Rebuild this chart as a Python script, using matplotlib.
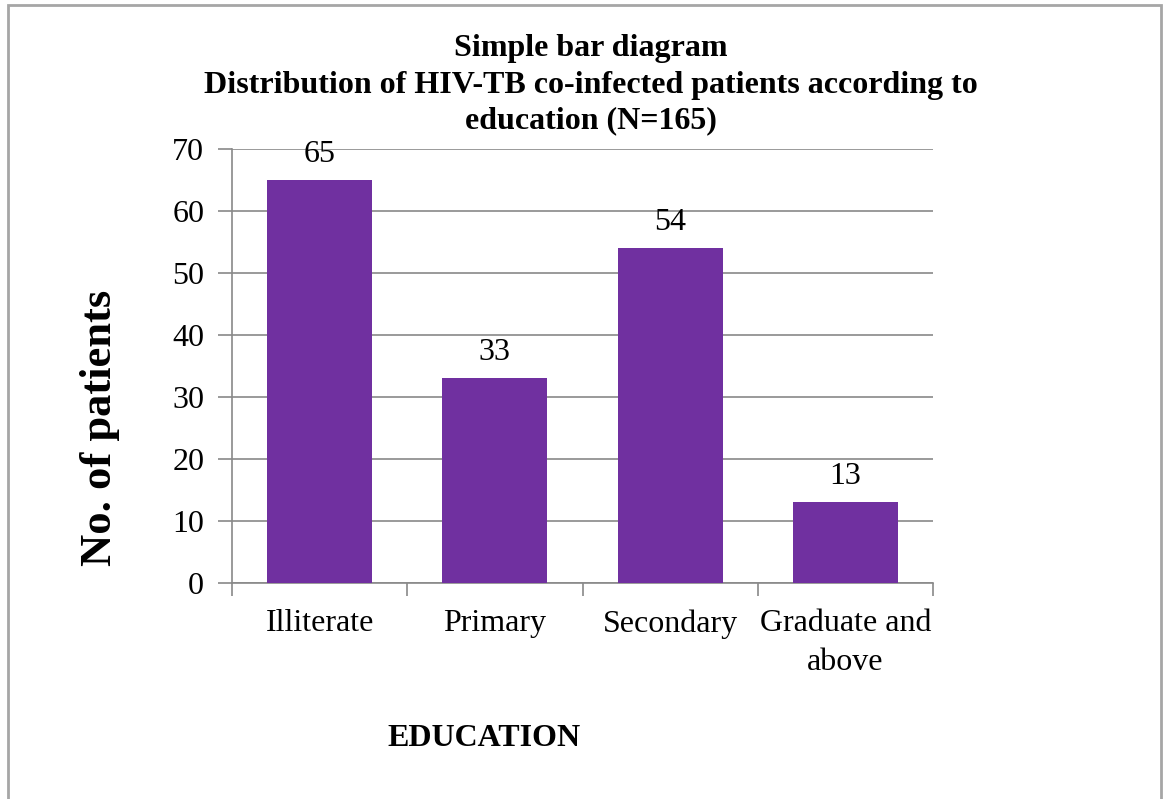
import matplotlib
matplotlib.use("Agg")
import matplotlib.pyplot as plt
from matplotlib.patches import Rectangle

categories = ["Illiterate", "Primary", "Secondary", "Graduate and\nabove"]
values = [65, 33, 54, 13]
yticks = [0, 10, 20, 30, 40, 50, 60, 70]

plt.rcParams['font.family'] = ['Liberation Serif', 'DejaVu Serif']

fig = plt.figure(figsize=(11.66, 7.99), dpi=100)
ax = fig.add_axes([232/1166, 1-583/799, (933-232)/1166, (583-149)/799])

x = list(range(len(categories)))
bars = ax.bar(x, values, width=0.6, color="#7030A0", zorder=3)
for xi, v in zip(x, values):
    ax.annotate(str(v), (xi, v), xytext=(0, 8), textcoords="offset points",
                ha="center", va="bottom", fontsize=23)

ax.set_xlim(-0.5, len(categories) - 0.5)
ax.set_ylim(0, 70)
ax.set_yticks(yticks)
ax.tick_params(axis='y', labelsize=23, length=10, color="#898989", width=1.2, pad=10)
ax.yaxis.grid(True, color="#898989", linewidth=1.2, zorder=0)
ax.set_xticks(x)
ax.set_xticklabels(categories, fontsize=23, linespacing=1.42)
ax.tick_params(axis='x', length=0, pad=19)
# category boundary ticks
ax.set_xticks([i - 0.5 for i in range(len(categories) + 1)], minor=True)
ax.tick_params(axis='x', which='minor', length=9, color="#898989", width=1.2)

for s in ["top", "right"]:
    ax.spines[s].set_visible(False)
for s in ["left", "bottom"]:
    ax.spines[s].set_color("#898989")
    ax.spines[s].set_linewidth(1.2)

fig.text(591/1166, 1-85/799,
         "Simple bar diagram\nDistribution of HIV-TB co-infected patients according to\neducation (N=165)",
         ha="center", va="center", fontsize=23, fontweight="bold", linespacing=1.32)
fig.text(100/1166, 1-428/799, "No. of patients", rotation=90, ha="center", va="center",
         fontsize=32, fontweight="bold")
fig.text(484/1166, 1-738/799, "EDUCATION", ha="center", va="center",
         fontsize=23, fontweight="bold")

fig.patches.append(Rectangle((8/1166, -0.05), (1161-8)/1166, 1-5/799 + 0.05,
                             transform=fig.transFigure, fill=False,
                             edgecolor="#A6A6A6", linewidth=2))

fig.savefig("out.png", dpi=100)
